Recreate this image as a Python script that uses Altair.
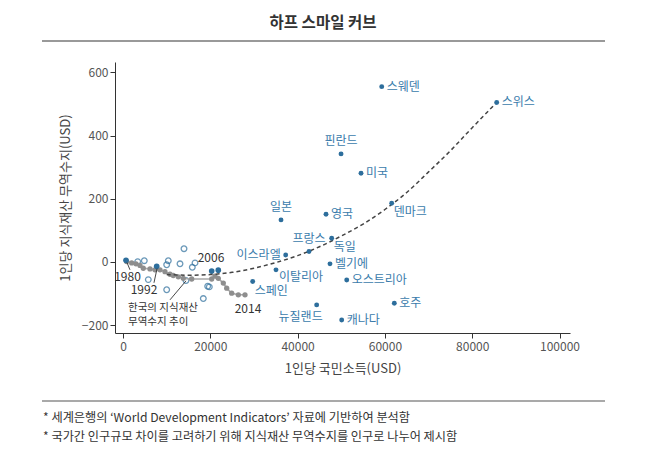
import altair as alt
import pandas as pd

FONT = "Noto Sans CJK KR"
BLUE = "#2d6e9c"
LBLUE = "#3a7bab"
GRAY = "#8e8e8e"

# Labelled countries
countries = ["스웨덴", "스위스", "핀란드", "미국", "덴마크", "일본", "영국", "프랑스", "독일",
             "이스라엘", "벨기에", "이탈리아", "오스트리아", "스페인", "호주", "뉴질랜드", "캐나다"]
gni = [59270, 85610, 49950, 54530, 61550, 36200, 46510, 42610, 47810,
       37270, 47420, 35050, 51250, 29710, 62150, 44370, 50100]
ip_bal = [555, 505, 342, 281, 186, 133, 151, 33, 75,
          22, -6, -25, -57, -62, -131, -136, -184]
placement = ["right", "right", "above", "right", "below_right", "above", "right", "above", "below_right",
             "left", "right", "below_near", "right", "below_right", "right", "below_left", "right"]

# Other (unlabelled) countries, filled
oth_x = [690, 7720, 20320, 21830]
oth_y = [5, -14, -29, -26]

# Other countries, hollow markers
hol_x = [13975, 4880, 10380, 10010, 13060, 16500, 15880, 5800, 10010, 14430, 19400, 18400, 3370, 19770]
hol_y = [42, 4, 4, -9, -6, -3, -17, -56, -88, -59, -77, -116, 1, -79]

# Korea trajectory 1980-2014
kor_x = [850, 1990, 2980, 3900, 4650, 6190, 7330, 8480, 9620, 10770, 11520, 12670, 13810, 15740,
         20320, 21080, 21830, 22980, 23760, 24900, 26420, 27950]
kor_y = [1, -3, -6, -11, -20, -22, -25, -25, -31, -39, -43, -47, -52, -54,
         -54, -45, -52, -67, -83, -99, -104, -104]

# Dashed half-smile curve
crv_x = [10000, 15000, 20000, 25000, 30000, 35000, 40000, 45000, 50000, 55000, 60000, 65000, 70000, 75000, 80000, 85610]
crv_y = [-40, -42, -40, -33, -20, -2, 20, 48, 82, 120, 166, 220, 285, 352, 425, 505]

# Korea annotations
kor_lab = ["1980", "1992", "2006", "2014"]
kor_lab_x = [1030, 4810, 20160, 28640]
kor_lab_y = [-48, -88, 13, -150]
note_lines = ["한국의 지식재산", "무역수지 추이"]
note_x = [1150, 1150]
note_y = [-146, -190]
leader_id = ["a", "a", "b", "b", "c", "c"]
leader_x = [1600, 920, 7100, 7800, 10770, 14430]
leader_y = [-25, -2, -66, -21, -120, -60]

title_text = "하프 스마일 커브"
footnotes = ["* 세계은행의 ‘World Development Indicators’ 자료에 기반하여 분석함",
             "* 국가간 인구규모 차이를 고려하기 위해 지식재산 무역수지를 인구로 나누어 제시함"]

XD = [-1830, 102400]
YD = [-225, 633]

xs = alt.Scale(domain=XD, nice=False, zero=False)
ys = alt.Scale(domain=YD, nice=False, zero=False)

xax = alt.Axis(values=[0, 20000, 40000, 60000, 80000, 100000], format="d", grid=False,
               title="1인당 국민소득(USD)", titleFontSize=13, titleFontWeight="normal",
               titleColor="#444", titleFont=FONT, titlePadding=10,
               labelFont=FONT, labelFontSize=12, labelColor="#555", labelPadding=3,
               domainColor="#333", tickColor="#333", tickSize=5, labelFlush=False)
yax = alt.Axis(values=[-200, 0, 200, 400, 600], grid=False,
               title="1인당 지식재산 무역수지(USD)", titleFontSize=13, titleFontWeight="normal",
               titleColor="#444", titleFont=FONT, titlePadding=9,
               labelFont=FONT, labelFontSize=12, labelColor="#555", labelPadding=2,
               domainColor="#333", tickColor="#333", tickSize=5)

cdf = pd.DataFrame({"country": countries, "gni": gni, "ip": ip_bal, "pos": placement})
odf = pd.DataFrame({"gni": oth_x, "ip": oth_y})
hdf = pd.DataFrame({"gni": hol_x, "ip": hol_y})
kdf = pd.DataFrame({"gni": kor_x, "ip": kor_y, "order": list(range(len(kor_x)))})
crdf = pd.DataFrame({"gni": crv_x, "ip": crv_y})
kldf = pd.DataFrame({"t": kor_lab, "gni": kor_lab_x, "ip": kor_lab_y})
ndf = pd.DataFrame({"t": note_lines, "gni": note_x, "ip": note_y})
ldf = pd.DataFrame({"id": leader_id, "gni": leader_x, "ip": leader_y})

X = alt.X("gni:Q", scale=xs, axis=xax)
Y = alt.Y("ip:Q", scale=ys, axis=yax)
Xn = alt.X("gni:Q", scale=xs)
Yn = alt.Y("ip:Q", scale=ys)

axes_layer = alt.Chart(cdf).mark_point(opacity=0).encode(x=X, y=Y)

hollow = alt.Chart(hdf).mark_point(shape="circle", filled=False, color=BLUE, size=32, strokeWidth=1.3).encode(x=Xn, y=Yn)

kor_line = alt.Chart(kdf).mark_line(color="#a8a8a8", strokeWidth=1.6).encode(x=Xn, y=Yn, order="order:Q")
kor_pts = alt.Chart(kdf).mark_circle(color=GRAY, size=28, opacity=1).encode(x=Xn, y=Yn)

other = alt.Chart(odf).mark_circle(color=BLUE, size=32, opacity=1).encode(x=Xn, y=Yn)

curve = alt.Chart(crdf).mark_line(color="#444", strokeWidth=1.5, strokeDash=[4, 3], interpolate="monotone").encode(x=Xn, y=Yn)

cpts = alt.Chart(cdf).mark_circle(color=BLUE, size=24, opacity=1).encode(x=Xn, y=Yn)

def lab(pos, **kw):
    return alt.Chart(cdf).transform_filter(alt.datum.pos == pos).mark_text(
        font=FONT, fontSize=12, color=LBLUE, baseline="middle", **kw
    ).encode(x=Xn, y=Yn, text="country:N")

labels = (lab("right", align="left", dx=5)
          + lab("left", align="right", dx=-5)
          + lab("above", align="center", dy=-13)
          + lab("below_right", align="left", dx=2, dy=9)
          + lab("below_near", align="left", dx=3, dy=7)
          + lab("below_left", align="right", dx=6, dy=12))

leaders = alt.Chart(ldf).mark_line(color="#333", strokeWidth=0.9).encode(x=Xn, y=Yn, detail="id:N")

kor_text = alt.Chart(kldf).mark_text(font=FONT, fontSize=12, color="#333", baseline="middle", align="center").encode(
    x=Xn, y=Yn, text="t:N")
note_text = alt.Chart(ndf).mark_text(font=FONT, fontSize=10.5, color="#333", baseline="middle", align="left").encode(
    x=Xn, y=Yn, text="t:N")

one = pd.DataFrame({"a": [0]})
title_mark = alt.Chart(one).mark_text(font=FONT, fontSize=15.5, fontWeight="bold", color="#333",
                                      align="center", baseline="middle").encode(
    x=alt.value(208), y=alt.value(-39), text=alt.value(title_text))
top_rule = alt.Chart(one).mark_rule(color="#777", strokeWidth=1.6).encode(
    x=alt.value(-73), x2=alt.value(490), y=alt.value(-21))
bot_rule = alt.Chart(one).mark_rule(color="#555", strokeWidth=1.2).encode(
    x=alt.value(-73), x2=alt.value(490), y=alt.value(339))
foot1 = alt.Chart(one).mark_text(font=FONT, fontSize=12.2, color="#333", align="left", baseline="middle").encode(
    x=alt.value(-72), y=alt.value(356), text=alt.value(footnotes[0]))
foot2 = alt.Chart(one).mark_text(font=FONT, fontSize=12.2, color="#333", align="left", baseline="middle").encode(
    x=alt.value(-72), y=alt.value(375), text=alt.value(footnotes[1]))

chart = alt.layer(
    axes_layer, hollow, kor_line, kor_pts, other, curve, cpts, labels, leaders, kor_text, note_text,
    title_mark, top_rule, bot_rule, foot1, foot2
).properties(
    width=455, height=271,
    autosize=alt.AutoSizeParams(type="none"),
    padding={"left": 107, "top": 54, "right": 70, "bottom": 122},
    background="white",
).configure_view(stroke=None)

chart.save("out.html", embed_options={"renderer": "svg", "actions": False})
